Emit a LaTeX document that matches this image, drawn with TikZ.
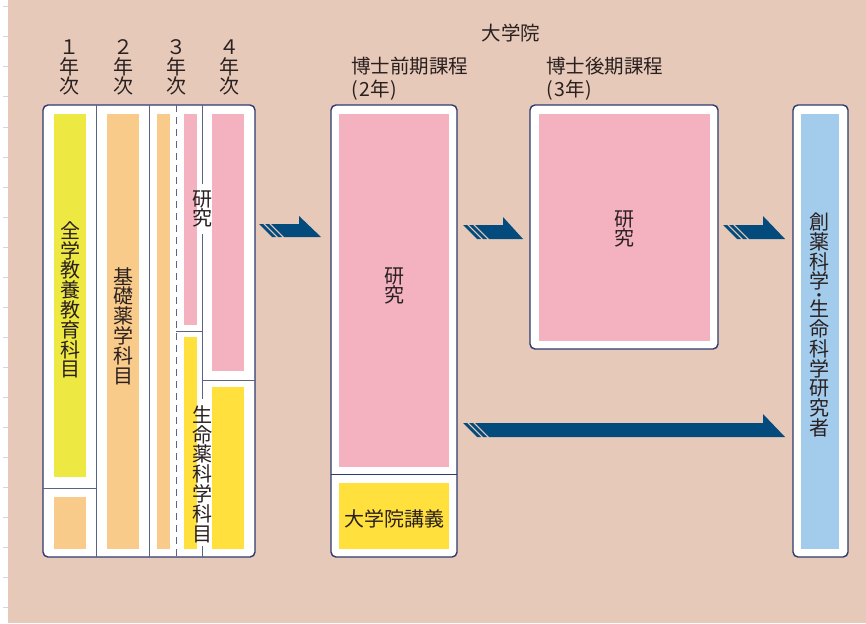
\documentclass[tikz,border=0pt]{standalone}
\usepackage{fontspec}
\newfontfamily\cjk{Noto Sans CJK JP}
\newfontfamily\dejavu{DejaVu Sans}
\definecolor{bgc}{HTML}{E6C9B8}
\definecolor{navy}{HTML}{2D3A6E}
\definecolor{divc}{HTML}{5A6288}
\definecolor{ylg}{HTML}{EEE842}
\definecolor{org}{HTML}{F9CB8A}
\definecolor{pnk}{HTML}{F4B2C1}
\definecolor{ylw}{HTML}{FFE03D}
\definecolor{blu}{HTML}{A2CBEC}
\definecolor{arrowc}{HTML}{034B7C}
\definecolor{ink}{HTML}{2A2020}
\definecolor{tickc}{HTML}{C9D9EC}
\newcommand\navyarrow[6]{% x0, ytop, ybot, xhead, yhead, xtip
  \pgfmathsetmacro\dd{#3-#2}
  \fill[arrowc] (#1,#2) -- ++(4,0) -- ++(\dd,\dd) -- ++(-4,0) -- cycle;
  \fill[arrowc] (#1+6,#2) -- ++(4,0) -- ++(\dd,\dd) -- ++(-4,0) -- cycle;
  \fill[arrowc] (#1+12,#2) -- (#4,#2) -- (#4,#5) -- (#6,#3) -- (#1+12+\dd,#3) -- cycle;
}
\begin{document}
\begin{tikzpicture}[x=1pt,y=-1pt,
  box/.style={draw=navy, line width=1.4pt, fill=white, rounded corners=5pt},
  divider/.style={draw=divc, line width=1pt},
  txt/.style={font=\cjk\fontsize{20}{19.8}\selectfont, text=ink, inner sep=0pt, align=center},
  htxt/.style={font=\cjk\fontsize{19.5}{20}\selectfont, text=ink, inner sep=0pt, align=left}]
\useasboundingbox (0,0) rectangle (866,623);
\fill[white] (0,0) rectangle (8,623);
\fill[bgc] (8,0) rectangle (866,623);
\foreach \k in {0,...,20} \draw[tickc, line width=1pt] (3,7+30*\k) -- (8,7+30*\k);

% headers
\node[txt] (h1) at (69,67.5) {１\\年\\次};
\node[txt] (h2) at (123,67.5) {２\\年\\次};
\node[txt] (h3) at (176,67.5) {３\\年\\次};
\node[txt] (h4) at (229,67.5) {４\\年\\次};
\node[htxt] (grad) at (511,33) {大学院};
\node[htxt, anchor=west] (mc) at (351,66) {博士前期課程};
\node[htxt, anchor=west] (mcy) at (351,90) {(\kern1.5pt2年\kern1pt)};
\node[htxt, anchor=west] (dc) at (546,66) {博士後期課程};
\node[htxt, anchor=west] (dcy) at (546,90) {(\kern1.5pt3年\kern1pt)};

% left box
\draw[box] (43,105) rectangle (255,557);
\fill[ylg] (54,114) rectangle (86,477);
\fill[org] (54,497) rectangle (86,549);
\fill[org] (107,114) rectangle (139,549);
\fill[org] (157,114) rectangle (170,549);
\fill[pnk] (184,114) rectangle (197,325);
\fill[ylw] (184,337) rectangle (197,549);
\fill[pnk] (212,114) rectangle (244,371);
\fill[ylw] (212,387) rectangle (244,549);
\draw[divider] (96,105) -- (96,557);
\draw[divider] (149,105) -- (149,557);
\draw[divider, dash pattern=on 7pt off 5pt] (176,105) -- (176,557);
\draw[divider] (202,105) -- (202,184);
\draw[divider] (202,234) -- (202,399);
\draw[divider] (202,546) -- (202,557);
\draw[divider] (43,488) -- (96,488);
\draw[divider] (176,331) -- (202,331);
\draw[divider] (202,380) -- (255,380);
\node[txt] (ge) at (70,300) {全\\学\\教\\養\\教\\育\\科\\目};
\node[txt] (bs) at (123,326) {基\\礎\\薬\\学\\科\\目};
\node[txt] (r1) at (202,209) {研\\究};
\node[txt] (ls) at (202,474) {生\\命\\薬\\科\\学\\科\\目};

% master box
\draw[box] (331,105) rectangle (457,557);
\fill[pnk] (339,114) rectangle (449,467);
\fill[ylw] (339,483) rectangle (449,549);
\draw[divider, draw=navy] (331,474) -- (457,474);
\node[txt] (r2) at (394,286) {研\\究};
\node[txt] (lec) at (394,519) {大学院講義};

% doctor box
\draw[box] (530,105) rectangle (718,349);
\fill[pnk] (539,114) rectangle (710,341);
\node[txt] (r3) at (624,229) {研\\究};

% researcher box
\draw[box] (793,105) rectangle (848,557);
\fill[blu] (801,114) rectangle (839,549);
\node[txt] (resa) at (819,251.7) {創\\薬\\科\\学};
\node[font=\dejavu\fontsize{4.5}{5}\selectfont, text=ink, inner sep=0pt] (resdot) at (819,295.5) {●};
\node[txt] (resb) at (819,368.4) {生\\命\\科\\学\\研\\究\\者};

% arrows
\navyarrow{259}{224}{237}{299}{216}{321}
\navyarrow{463}{225}{239}{503}{217}{523}
\navyarrow{723}{225}{239}{763}{216}{785}
\navyarrow{463}{423}{437}{763}{414}{785}
\end{tikzpicture}
\end{document}
